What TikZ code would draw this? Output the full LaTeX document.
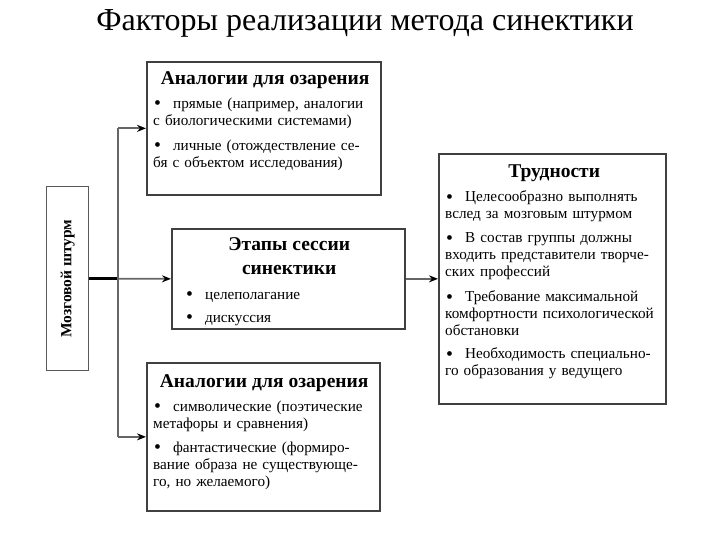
\documentclass[tikz,border=0pt]{standalone}
\usepackage{fontspec}
\setmainfont{Liberation Serif}
\usepackage{graphicx}
\usetikzlibrary{arrows.meta,positioning}
\newcommand{\paneltitlefont}{\fontsize{19.5}{22}\selectfont\bfseries}
\newcommand{\dotmark}{\hspace{1pt}\raisebox{-1.2pt}{\scalebox{1.3}{\textbullet}}\hspace{12pt}}
\begin{document}
\begin{tikzpicture}[x=1pt, y=1pt,
    panel/.style={rectangle, draw=black!75, line width=1.7pt, fill=white, anchor=north west, inner sep=0pt},
    paneltext/.style={anchor=north west, inner sep=0pt, align=left, font=\fontsize{15.2}{17}\selectfont},
    link/.style={draw=black!60, line width=1.8pt, -{Stealth[length=9pt,width=7pt,black]}},
    trunk/.style={draw=black, line width=2.4pt}
]
\useasboundingbox (0,0) rectangle (720,-540);

% Title
\node[font=\fontsize{32}{36}\selectfont] (title) at (365,-23) {Факторы реализации метода синектики};

% Boxes
\node[panel, draw=black!65, line width=1.3pt, minimum width=42pt, minimum height=184pt] (brain) at (46,-186)
    {\rotatebox{90}{\fontsize{15.5}{18}\selectfont\bfseries Мозговой штурм}};
\node[panel, minimum width=234pt, minimum height=133pt] (anal1) at (146,-61) {};
\node[panel, minimum width=233pt, minimum height=100pt] (stages) at (171,-228) {};
\node[panel, minimum width=233pt, minimum height=148pt] (anal2) at (146,-362) {};
\node[panel, minimum width=227pt, minimum height=250pt] (hard) at (438,-153) {};

% Box texts
\node[paneltext, text width=224pt] (anal1txt) at ([xshift=7pt,yshift=-10pt]anal1.north west) {
    \makebox[\linewidth]{\paneltitlefont Аналогии для озарения}\\[7pt]
    \dotmark прямые (например, аналогии\\
    с биологическими системами)\\[8pt]
    \dotmark личные (отождествление се-\\
    бя с объектом исследования)};
\node[paneltext, text width=222pt] (stagestxt) at ([xshift=7pt,yshift=-9pt]stages.north west) {
    \makebox[\linewidth]{\paneltitlefont Этапы сессии}\\[7pt]
    \makebox[\linewidth]{\paneltitlefont синектики}\\[8pt]
    \hspace{7pt}\dotmark целеполагание\\[6pt]
    \hspace{7pt}\dotmark дискуссия};
\node[paneltext, text width=222pt] (anal2txt) at ([xshift=7pt,yshift=-12pt]anal2.north west) {
    \makebox[\linewidth]{\paneltitlefont Аналогии для озарения}\\[7pt]
    \dotmark символические (поэтические\\
    метафоры и сравнения)\\[7pt]
    \dotmark фантастические (формиро-\\
    вание образа не существующе-\\
    го, но желаемого)};
\node[paneltext, text width=218pt] (hardtxt) at ([xshift=7pt,yshift=-12pt]hard.north west) {
    \makebox[\linewidth]{\paneltitlefont Трудности}\\[7pt]
    \dotmark Целесообразно выполнять\\
    вслед за мозговым штурмом\\[7pt]
    \dotmark В состав группы должны\\
    входить представители творче-\\
    ских профессий\\[8pt]
    \dotmark Требование максимальной\\
    комфортности психологической\\
    обстановки\\[6pt]
    \dotmark Необходимость специально-\\
    го образования у ведущего};

% Connectors
\path (brain.east) ++(29,0) coordinate (fork);
\draw[trunk] (brain.east) -- (fork);
\draw[link] (fork) -- (stages.west);
\draw[link, -] (fork |- anal1.west) -- (fork |- anal2.west);
\draw[link] (fork |- anal1.west) -- (anal1.west);
\draw[link] (fork |- anal2.west) -- (anal2.west);
\draw[link] (stages.east) -- (hard.west);
\end{tikzpicture}
\end{document}
